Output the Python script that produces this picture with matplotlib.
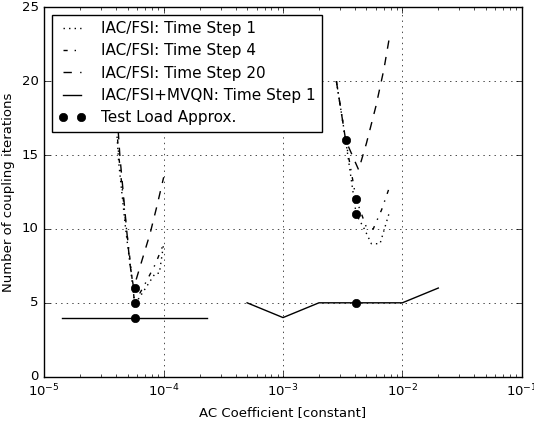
# Coupling iterations vs. AC coefficient for the IAC/FSI runs
import numpy as np
import matplotlib
matplotlib.use('Agg')
import matplotlib.pyplot as plt

plt.style.use('classic')

# IAC/FSI, time step 1 (two sweeps around the optimum)
ts1_lo_x = [3.8e-5, 4.2e-5, 4.8e-5, 5.3e-5, 5.7e-5, 6.2e-5, 8.5e-5, 9.2e-5, 1.0e-4]
ts1_lo_y = [20, 14.5, 10, 7.2, 5, 5.3, 7, 7, 9]
ts1_hi_x = [2.8e-3, 3.35e-3, 4.1e-3, 4.8e-3, 5.5e-3, 6.5e-3, 7.7e-3]
ts1_hi_y = [20, 16, 11, 10, 9, 9, 11]

# IAC/FSI, time step 4
ts4_lo_x = [3.8e-5, 4.2e-5, 4.8e-5, 5.3e-5, 5.7e-5, 7.0e-5, 8.5e-5, 1.0e-4]
ts4_lo_y = [20, 15, 10.5, 7.5, 5, 6.3, 7.6, 9]
ts4_hi_x = [2.8e-3, 3.35e-3, 4.1e-3, 5.0e-3, 5.7e-3, 6.7e-3, 7.7e-3]
ts4_hi_y = [20, 16, 12, 10.1, 10, 11.3, 12.7]

# IAC/FSI, time step 20
ts20_lo_x = [3.9e-5, 4.3e-5, 4.9e-5, 5.2e-5, 5.6e-5, 7.7e-5, 8.75e-5, 1.0e-4]
ts20_lo_y = [20, 14.9, 9.9, 7.7, 6, 9.7, 11.5, 13.5]
ts20_hi_x = [2.8e-3, 3.35e-3, 4.3e-3, 5.0e-3, 6.0e-3, 7.0e-3, 7.8e-3]
ts20_hi_y = [20, 16, 14, 15.8, 18.3, 20.8, 23]

# IAC/FSI + MVQN, time step 1
mvqn_lo_x = [1.4e-5, 5.7e-5, 2.3e-4]
mvqn_lo_y = [4, 4, 4]
mvqn_hi_x = [5e-4, 1e-3, 2e-3, 4.1e-3, 1e-2, 2e-2]
mvqn_hi_y = [5, 4, 5, 5, 5, 6]

# test load approximation of the coefficient
tla_x = [5.7e-5, 5.7e-5, 5.7e-5, 3.35e-3, 4.1e-3, 4.1e-3, 4.1e-3]
tla_y = [6, 5, 4, 16, 12, 11, 5]

fig = plt.figure(figsize=(5.34, 4.23), dpi=100)
ax = fig.add_axes([0.083, 0.1095, 0.894, 0.8732])

ax.plot(ts1_lo_x, ts1_lo_y, 'k:', label='IAC/FSI: Time Step 1')
ax.plot(ts1_hi_x, ts1_hi_y, 'k:')
ax.plot(ts4_lo_x, ts4_lo_y, 'k-.', label='IAC/FSI: Time Step 4')
ax.plot(ts4_hi_x, ts4_hi_y, 'k-.')
ax.plot(ts20_lo_x, ts20_lo_y, 'k--', label='IAC/FSI: Time Step 20')
ax.plot(ts20_hi_x, ts20_hi_y, 'k--')
ax.plot(mvqn_lo_x, mvqn_lo_y, 'k-', label='IAC/FSI+MVQN: Time Step 1')
ax.plot(mvqn_hi_x, mvqn_hi_y, 'k-')
ax.plot(tla_x, tla_y, 'ko', markersize=6, linestyle='none', label='Test Load Approx.')

ax.set_xscale('log')
ax.set_xlim(1e-5, 1e-1)
ax.set_ylim(0, 25)
ax.set_yticks([0, 5, 10, 15, 20, 25])
ax.grid(True)
ax.set_xlabel('AC Coefficient [constant]', fontsize=9.5)
ax.set_ylabel('Number of coupling iterations', fontsize=9.5)
ax.tick_params(labelsize=9.5)

ax.legend(loc='upper left', fontsize=11, numpoints=2, handlelength=1.8,
          handletextpad=1.0, labelspacing=0.48)

fig.savefig('out.png', dpi=100)
